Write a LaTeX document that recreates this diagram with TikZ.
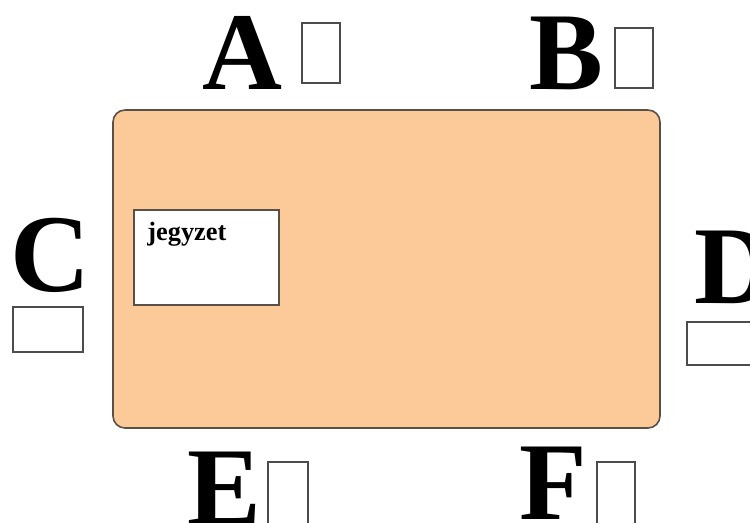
\documentclass[tikz,border=0pt]{standalone}
\usepackage{fontspec}
\setmainfont{Liberation Serif}
\usepackage{xcolor}
\definecolor{peach}{RGB}{252,202,152}
\definecolor{rim}{RGB}{90,80,70}

\begin{document}
\begin{tikzpicture}[
  x=0.02cm, y=-0.02cm,
  letter/.style={anchor=base west, inner sep=0pt, font=\fontsize{63}{63}\selectfont\bfseries},
  gbox/.style={draw=black!70, line width=0.8pt, fill=white},
  card/.style={draw=rim, line width=0.9pt, fill=peach, rounded corners=0.24cm},
  note/.style={draw=rim, line width=0.9pt, fill=white}
]
\useasboundingbox (0,0) rectangle (750,522);

% ---- card ----
\draw[card] (113,110) rectangle (660,428);
\draw[note] (134,210) rectangle (279,305);
\node[anchor=base west, inner sep=0pt, font=\fontsize{15}{15}\selectfont\bfseries] (jegy) at (147,240) {jegyzet};

% ---- top labels ----
\node[letter] (A) at (202,89) {A};
\draw[gbox] (302,23) rectangle (340,83);
\node[letter] (B) at (529,89) {B};
\draw[gbox] (615,28) rectangle (653,88);

% ---- side labels ----
\node[letter] (C) at (10,291) {C};
\draw[gbox] (13,307) rectangle (83,352);
\node[letter] (D) at (694,303) {D};
\draw[gbox] (687,322) rectangle (760,365);

% ---- bottom labels ----
\node[letter] (E) at (187,524) {E};
\draw[gbox] (268,462) rectangle (308,540);
\node[letter] (F) at (519,519) {F};
\draw[gbox] (597,462) rectangle (635,540);

\end{tikzpicture}
\end{document}
